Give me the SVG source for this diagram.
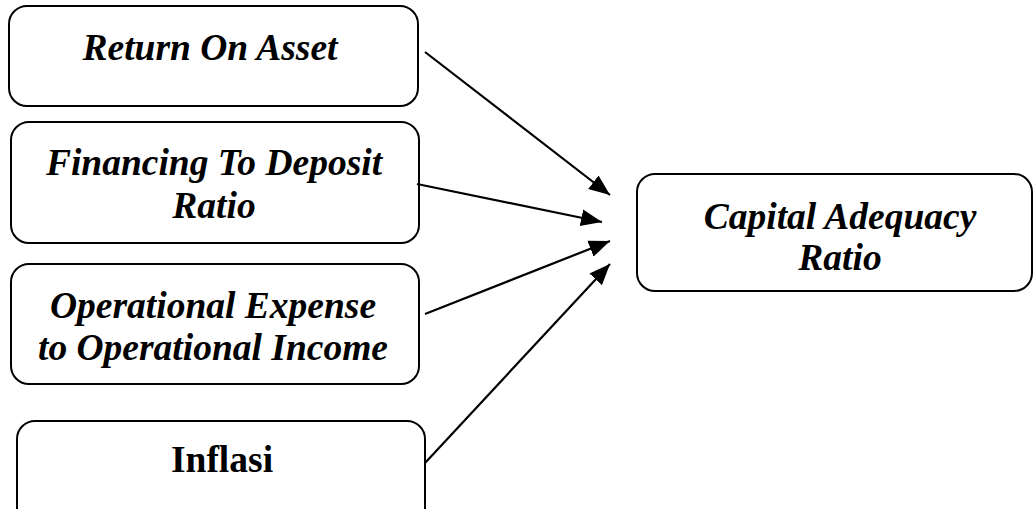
<svg xmlns="http://www.w3.org/2000/svg" width="1034" height="509" viewBox="0 0 1034 509">
<style>
.box{fill:#fff;stroke:#000;stroke-width:2}
.t{font-family:"Liberation Serif","Times New Roman",serif;font-size:37.5px;font-weight:bold;font-style:italic;fill:#000;text-anchor:middle}
.u{font-family:"Liberation Serif","Times New Roman",serif;font-size:37.5px;font-weight:bold;fill:#000;text-anchor:middle}
.c{stroke:#000;stroke-width:2.2;fill:none}
</style>
<defs>
<marker id="ah" markerUnits="userSpaceOnUse" markerWidth="24" markerHeight="20" refX="21" refY="10" orient="auto">
<path d="M0,1.5 L21,10 L0,18.5 Z" fill="#000"/>
</marker>
</defs>
<rect width="1034" height="509" fill="#fff"/>
<g id="roa">
<rect class="box" x="9" y="6" width="409" height="100" rx="18"/>
<text class="t" x="210" y="60">Return On Asset</text>
</g>
<g id="fdr">
<rect class="box" x="11" y="122" width="408" height="121" rx="18"/>
<text class="t" x="214" y="175">Financing To Deposit</text>
<text class="t" x="214" y="218">Ratio</text>
</g>
<g id="bopo">
<rect class="box" x="11" y="264" width="408" height="120" rx="18"/>
<text class="t" x="213" y="318">Operational Expense</text>
<text class="t" x="213" y="360">to Operational Income</text>
</g>
<g id="inflasi">
<rect class="box" x="17" y="421" width="408" height="110" rx="18"/>
<text class="u" x="222" y="472">Inflasi</text>
</g>
<g id="car">
<rect class="box" x="637" y="174" width="395" height="117" rx="18"/>
<text class="t" x="840" y="229">Capital Adequacy</text>
<text class="t" x="840" y="270">Ratio</text>
</g>
<g id="connectors">
<line class="c" x1="425" y1="52" x2="610" y2="195" marker-end="url(#ah)"/>
<line class="c" x1="417" y1="184" x2="602" y2="222" marker-end="url(#ah)"/>
<line class="c" x1="425" y1="314" x2="610" y2="241" marker-end="url(#ah)"/>
<line class="c" x1="425" y1="463" x2="610" y2="264" marker-end="url(#ah)"/>
</g>
</svg>
